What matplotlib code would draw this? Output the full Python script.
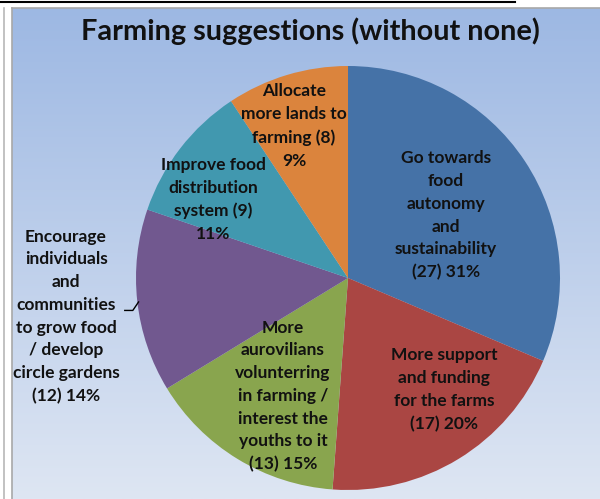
import numpy as np
import matplotlib
matplotlib.use("Agg")
import matplotlib.pyplot as plt
from matplotlib.lines import Line2D

title = "Farming suggestions (without none)"
categories = [
    "Go towards\nfood\nautonomy\nand\nsustainability",
    "More support\nand funding\nfor the farms",
    "More\naurovilians\nvolunterring\nin farming /\ninterest the\nyouths to it",
    "Encourage\nindividuals\nand\ncommunities\nto grow food\n/ develop\ncircle gardens",
    "Improve food\ndistribution\nsystem",
    "Allocate\nmore lands to\nfarming",
]
counts = [27, 17, 13, 12, 9, 8]
percents = [31, 20, 15, 14, 11, 9]
label_texts = [
    "Go towards\nfood\nautonomy\nand\nsustainability\n(27) 31%",
    "More support\nand funding\nfor the farms\n(17) 20%",
    "More\naurovilians\nvolunterring\nin farming /\ninterest the\nyouths to it\n(13) 15%",
    "Encourage\nindividuals\nand\ncommunities\nto grow food\n/ develop\ncircle gardens\n(12) 14%",
    "Improve food\ndistribution\nsystem (9)\n11%",
    "Allocate\nmore lands to\nfarming (8)\n9%",
]
colors = ["#4572A7", "#AA4643", "#89A54E", "#71588F", "#4198AF", "#DB843D"]
label_pos = [(0.462, 0.295), (0.453, -0.526), (-0.307, -0.557),
             (-1.33, -0.182), (-0.637, 0.370), (-0.255, 0.717)]

W, H = 600, 499
fig = plt.figure(figsize=(W / 100, H / 100), dpi=100)
fig.patch.set_facecolor("white")

# gradient background
bg = fig.add_axes([12 / W, 0, 1 - 12 / W, (H - 8) / H])
top = np.array([0x9D, 0xB8, 0xE3]) / 255
bot = np.array([0xDE, 0xE6, 0xF3]) / 255
t = np.linspace(0, 1, 256)[:, None]
grad = (top[None, :] * (1 - t) + bot[None, :] * t)[:, None, :]
bg.imshow(grad, aspect="auto", extent=[0, 1, 0, 1], origin="upper")
bg.set_axis_off()

# frame lines
fig.add_artist(Line2D([0, 515 / W], [1 - 1.5 / H, 1 - 1.5 / H], color="black", lw=1.5))
fig.add_artist(Line2D([12 / W, 1], [1 - 8 / H, 1 - 8 / H], color="#A8A8A8", lw=1.2))
fig.add_artist(Line2D([4 / W, 4 / W], [0, 1 - 8 / H], color="#B8B8B8", lw=1.2))
fig.add_artist(Line2D([11.5 / W, 11.5 / W], [0, 1 - 8 / H], color="#A8A8A8", lw=1.2))

cx, cy, R = 348, 278, 212
ax = fig.add_axes([(cx - R) / W, (H - cy - R) / H, 2 * R / W, 2 * R / H])
ax.set_axis_off()
ax.pie(counts, colors=colors, startangle=90, counterclock=False, radius=1,
       wedgeprops=dict(linewidth=0), frame=False)
ax.set_xlim(-1, 1)
ax.set_ylim(-1, 1)
ax.set_aspect("equal")

font = "Lato"
for txt, (x, y) in zip(label_texts, label_pos):
    ax.text(x, y, txt, ha="center", va="center", fontsize=12.5, fontweight="bold",
            family=font, color="#111111", linespacing=1.52, clip_on=False)

# leader line for purple label
ax.plot([-1.053, -1.015, -0.988], [-0.153, -0.153, -0.113], color="black", lw=1, clip_on=False)

fig.text(310 / W, 1 - 31 / H, title, ha="center", va="center", fontsize=20.8,
         fontweight="bold", family=font, color="#111111")

fig.savefig("out.png", dpi=100)
